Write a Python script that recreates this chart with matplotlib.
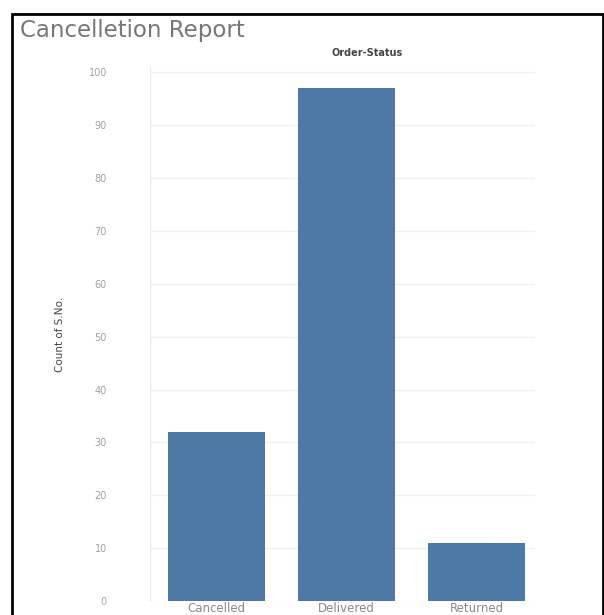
import matplotlib.pyplot as plt
from matplotlib.patches import Rectangle

# data
status = ['Cancelled', 'Delivered', 'Returned']
counts = [32, 97, 11]
y_ticks = [0, 10, 20, 30, 40, 50, 60, 70, 80, 90, 100]

bar_color = '#4e79a7'

fig = plt.figure(figsize=(6.04, 6.15), dpi=100)

# black frame round the whole sheet
fig.patches.append(Rectangle((12 / 604, -0.05), (591 / 604), 1.05 - 14 / 615,
                             transform=fig.transFigure, fill=False,
                             edgecolor='black', linewidth=2))

ax = fig.add_axes([150 / 604, 1 - 601 / 615, 385 / 604, 534 / 615])
ax.bar(status, counts, width=0.75, color=bar_color, zorder=3)

ax.set_xlim(-0.51, 2.45)
ax.set_ylim(0, 101)
ax.set_yticks(y_ticks)
ax.yaxis.grid(True, color='#f0f0f0', linewidth=1, zorder=0)
ax.tick_params(axis='y', length=0, pad=31, labelsize=7, labelcolor='#a0a0a0')
ax.tick_params(axis='x', length=0, pad=0.5, labelsize=8.5, labelcolor='#8a8a8a')

for side in ['top', 'right', 'bottom']:
    ax.spines[side].set_visible(False)
ax.spines['left'].set_color('#ececec')

ax.set_ylabel('Count of S.No.', family=['Liberation Sans Narrow', 'DejaVu Sans'],
              fontsize=7.5, color='#444444', labelpad=17)

fig.text(20 / 604, 1 - 31 / 615, 'Cancelletion Report', fontsize=16.5,
         color='#777777', va='center', ha='left')
fig.text(367 / 604, 1 - 53 / 615, 'Order-Status', fontsize=7,
         color='#444444', va='center', ha='center', fontweight='bold')

fig.savefig('out.png', dpi=100)
